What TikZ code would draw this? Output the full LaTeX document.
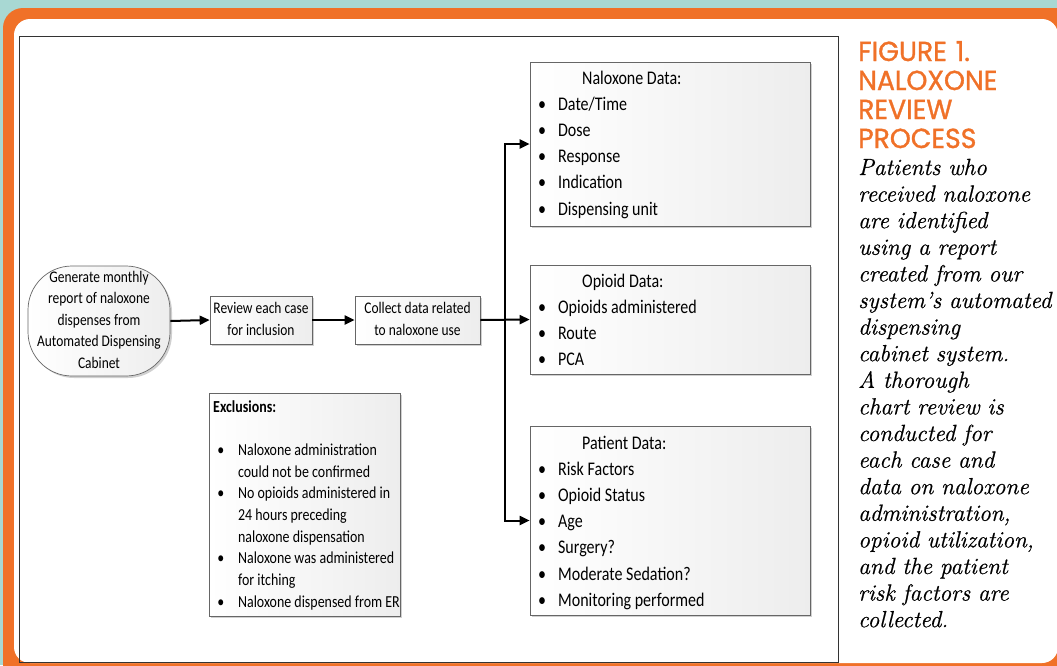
\documentclass[tikz,border=0pt]{standalone}
\usepackage{fontspec}
\newfontfamily\calibri{Carlito}
\newfontfamily\capfont[FakeBold=1.2]{Poppins}
\newfontfamily\capit[FakeBold=0.6]{Latin Modern Roman}
\usetikzlibrary{arrows.meta,shadows}
\definecolor{tealbg}{RGB}{168,216,211}
\definecolor{frameor}{RGB}{240,113,40}
\newcommand\narrowpar[2]{\scalebox{0.83}[1]{\parbox[t]{#1}{\raggedright #2}}}
\newcommand\narrowcen[1]{\scalebox{0.83}[1]{\begin{tabular}{@{}c@{}}#1\end{tabular}}}
\begin{document}
\begin{tikzpicture}[x=1pt,y=-1pt,
  box/.style={draw=black!60, line width=0.7pt, left color=white, right color=black!7,
    drop shadow={shadow xshift=2pt,shadow yshift=-2pt,opacity=0.3,fill=black!60}, inner sep=0pt},
  arr/.style={line width=2pt, -{Triangle[length=10pt,width=9pt]}},
  small/.style={font=\calibri\fontsize{16.2}{21.5}\selectfont},
  datalist/.style={anchor=base west, inner sep=0pt, font=\calibri\fontsize{19.3}{26.2}\selectfont},
  exclist/.style={anchor=base west, inner sep=0pt, font=\calibri\fontsize{16.8}{21.7}\selectfont}
]
\useasboundingbox (0,0) rectangle (1057,665);
% frame
\fill[tealbg] (0,0) rectangle (1057,665);
\fill[frameor, rounded corners=20pt] (3,8) rectangle (1090,700);
\fill[white, rounded corners=16pt] (14,19) rectangle (1058,663);
\draw[black!80, line width=0.8pt] (19,36) rectangle (838,662);

% flow nodes
\node[box, small, rounded corners=44pt, minimum width=142pt, minimum height=110pt] (start) at (99,321)
  {\narrowcen{Generate monthly\\report of naloxone\\dispenses from\\Automated Dispensing\\Cabinet}};
\node[box, small, minimum width=102pt, minimum height=48pt] (rev) at (261,320)
  {\narrowcen{Review each case\\for inclusion}};
\node[box, small, minimum width=125pt, minimum height=48pt] (col) at (417.5,320)
  {\narrowcen{Collect data related\\to naloxone use}};

\node[box, minimum width=280pt, minimum height=164pt] (nal) at (670,144) {};
\node[box, minimum width=280pt, minimum height=109pt] (opi) at (670,319.5) {};
\node[box, minimum width=280pt, minimum height=189pt] (pat) at (670,520.5) {};
\node[box, minimum width=191pt, minimum height=223pt] (exc) at (304.5,504.5) {};

\node[datalist] (naltxt) at (538,84) {\narrowpar{320pt}{\hspace*{53pt}Naloxone Data:\\
  \makebox[24pt][l]{\textbullet}Date/Time\\
  \makebox[24pt][l]{\textbullet}Dose\\
  \makebox[24pt][l]{\textbullet}Response\\
  \makebox[24pt][l]{\textbullet}Indication\\
  \makebox[24pt][l]{\textbullet}Dispensing unit}};
\node[datalist] (opitxt) at (538,287) {\narrowpar{320pt}{\hspace*{53pt}Opioid Data:\\
  \makebox[24pt][l]{\textbullet}Opioids administered\\
  \makebox[24pt][l]{\textbullet}Route\\
  \makebox[24pt][l]{\textbullet}PCA}};
\node[datalist] (pattxt) at (538,449) {\narrowpar{320pt}{\hspace*{53pt}Patient Data:\\
  \makebox[24pt][l]{\textbullet}Risk Factors\\
  \makebox[24pt][l]{\textbullet}Opioid Status\\
  \makebox[24pt][l]{\textbullet}Age\\
  \makebox[24pt][l]{\textbullet}Surgery?\\
  \makebox[24pt][l]{\textbullet}Moderate Sedation?\\
  \makebox[24pt][l]{\textbullet}Monitoring performed}};
\node[exclist] (exctxt) at (213,412) {\narrowpar{230pt}{\textbf{Exclusions:}\\[21.7pt]
  \hspace*{5pt}\makebox[25pt][l]{\textbullet}Naloxone administration\\
  \hspace*{30pt}could not be confirmed\\
  \hspace*{5pt}\makebox[25pt][l]{\textbullet}No opioids administered in\\
  \hspace*{30pt}24 hours preceding\\
  \hspace*{30pt}naloxone dispensation\\
  \hspace*{5pt}\makebox[25pt][l]{\textbullet}Naloxone was administered\\
  \hspace*{30pt}for itching\\
  \hspace*{5pt}\makebox[25pt][l]{\textbullet}Naloxone dispensed from ER}};

% connectors
\draw[arr] (start.east) -- (rev.west);
\draw[arr] (rev.east) -- (col.west);
\draw[arr] (col.east) -- (opi.west);
\coordinate (br) at (505,320);
\draw[arr] (br) |- (nal.west);
\draw[arr] (br) |- (pat.west);

% caption
\node[anchor=base west, inner sep=0pt, text width=200pt, align=left, text=frameor,
  font=\capfont\fontsize{27.5}{29}\selectfont] (captitle) at (858,61)
  {\scalebox{0.97}[1]{FIGURE 1.}\\\scalebox{0.97}[1]{NALOXONE}\\\scalebox{0.97}[1]{REVIEW}\\\scalebox{0.97}[1]{PROCESS}};
\node[anchor=base west, inner sep=0pt, text width=250pt, align=left,
  font=\capit\itshape\fontsize{23.4}{26.6}\selectfont] (captext) at (858,175)
  {Patients who\\received naloxone\\are identified\\using a report\\created from our\\system’s automated\\dispensing\\cabinet system.\\A thorough\\chart review is\\conducted for\\each case and\\data on naloxone\\administration,\\opioid utilization,\\and the patient\\risk factors are\\collected.};
\end{tikzpicture}
\end{document}
